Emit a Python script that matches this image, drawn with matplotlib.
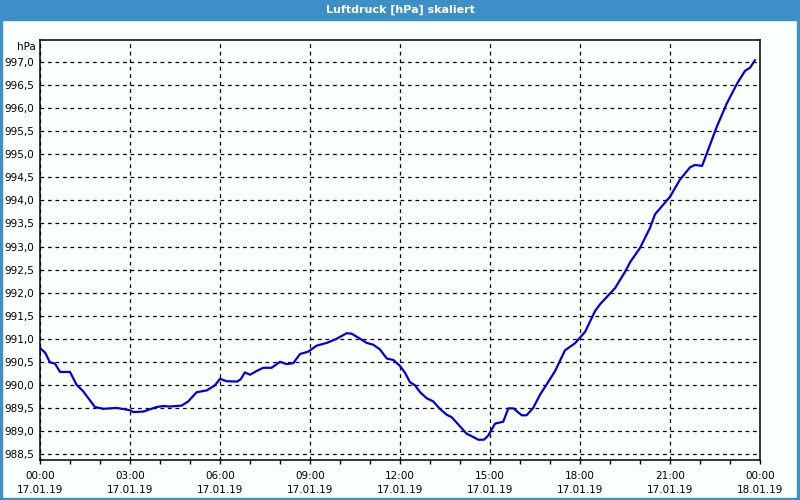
import matplotlib
matplotlib.use('Agg')
import matplotlib.pyplot as plt
from matplotlib.patches import Rectangle
import numpy as np

# hours since 17.01.19 00:00, pressure in hPa
hours = [0.03, 0.17, 0.33, 0.5, 0.67, 1.0, 1.22, 1.44, 1.83, 2.11, 2.56, 3.0, 3.11,
         3.44, 3.89, 4.11, 4.33, 4.72, 4.94, 5.22, 5.56, 5.83, 6.0, 6.22, 6.56, 6.69,
         6.83, 7.0, 7.22, 7.44, 7.72, 8.0, 8.22, 8.44, 8.67, 8.94, 9.22, 9.56, 9.89,
         10.22, 10.39, 10.67, 10.89, 11.11, 11.33, 11.56, 11.78, 12.0, 12.17, 12.33,
         12.5, 12.67, 12.89, 13.11, 13.33, 13.56, 13.72, 14.0, 14.22, 14.44, 14.61,
         14.8, 14.94, 15.17, 15.44, 15.61, 15.78, 16.06, 16.22, 16.44, 16.67, 16.83,
         17.17, 17.5, 17.83, 18.17, 18.5, 18.67, 19.17, 19.5, 19.67, 20.0, 20.33,
         20.5, 20.83, 21.0, 21.33, 21.67, 21.83, 22.07, 22.33, 22.56, 22.89, 23.24,
         23.5, 23.67, 23.83]
pressure = [990.78, 990.70, 990.49, 990.46, 990.28, 990.28, 990.00, 989.86, 989.52,
            989.48, 989.50, 989.45, 989.41, 989.42, 989.52, 989.54, 989.53, 989.55,
            989.64, 989.84, 989.88, 989.99, 990.13, 990.08, 990.07, 990.12, 990.27,
            990.22, 990.30, 990.37, 990.37, 990.50, 990.45, 990.47, 990.67, 990.72,
            990.85, 990.91, 991.00, 991.12, 991.11, 991.00, 990.91, 990.87, 990.77,
            990.57, 990.54, 990.41, 990.26, 990.06, 989.99, 989.84, 989.71, 989.64,
            989.48, 989.35, 989.30, 989.10, 988.94, 988.87, 988.81, 988.81, 988.90,
            989.16, 989.20, 989.49, 989.49, 989.34, 989.34, 989.50, 989.79, 989.95,
            990.30, 990.75, 990.90, 991.15, 991.60, 991.75, 992.10, 992.45, 992.66,
            992.97, 993.40, 993.70, 993.95, 994.08, 994.45, 994.72, 994.77, 994.75,
            995.20, 995.60, 996.10, 996.54, 996.81, 996.88, 997.04]

xtick_hours = [0, 3, 6, 9, 12, 15, 18, 21, 24]
xtick_labels = ['00:00\n17.01.19', '03:00\n17.01.19', '06:00\n17.01.19',
                '09:00\n17.01.19', '12:00\n17.01.19', '15:00\n17.01.19',
                '18:00\n17.01.19', '21:00\n17.01.19', '00:00\n18.01.19']
yticks = np.arange(988.5, 997.01, 0.5)

frame_blue = '#3c8fc7'
bg = '#fbfffb'

fig = plt.figure(figsize=(8, 5), dpi=100, facecolor=bg)
ax = fig.add_axes([0.05, 0.08, 0.90, 0.84])
ax.set_facecolor(bg)

ax.plot(hours, pressure, color='#0000e6', lw=1.6, solid_joinstyle='round')

ax.set_xlim(0, 24)
ax.set_ylim(988.37, 997.48)
ax.set_xticks(xtick_hours)
ax.set_xticklabels(xtick_labels, fontsize=7.5, linespacing=1.45)
ax.set_xticks(range(25), minor=True)
ax.set_yticks(yticks)
ax.set_yticklabels([f'{v:.1f}'.replace('.', ',') for v in yticks], fontsize=7.5)
ax.tick_params(axis='x', which='both', direction='out', length=3, width=1, pad=5)
ax.tick_params(axis='y', length=0, pad=4)
ax.grid(True, color='black', ls=(0, (3, 3)), lw=0.9)
for s in ax.spines.values():
    s.set_linewidth(1.1)

fig.text(0.045, 0.906, 'hPa', ha='right', va='center', fontsize=7.5)

# title bar and frame
fig.patches.append(Rectangle((0, 0.96), 1, 0.04, transform=fig.transFigure,
                             color=frame_blue, zorder=0))
fig.patches.append(Rectangle((0, 0), 0.0025, 1, transform=fig.transFigure,
                             color=frame_blue, zorder=0))
fig.patches.append(Rectangle((0.996, 0), 0.004, 1, transform=fig.transFigure,
                             color=frame_blue, zorder=0))
fig.patches.append(Rectangle((0, 0), 1, 0.005, transform=fig.transFigure,
                             color=frame_blue, zorder=0))
fig.text(0.5, 0.98, 'Luftdruck [hPa] skaliert', ha='center', va='center',
         color='white', fontsize=8, fontweight='bold')

fig.savefig('out.png', dpi=100, facecolor=bg)
